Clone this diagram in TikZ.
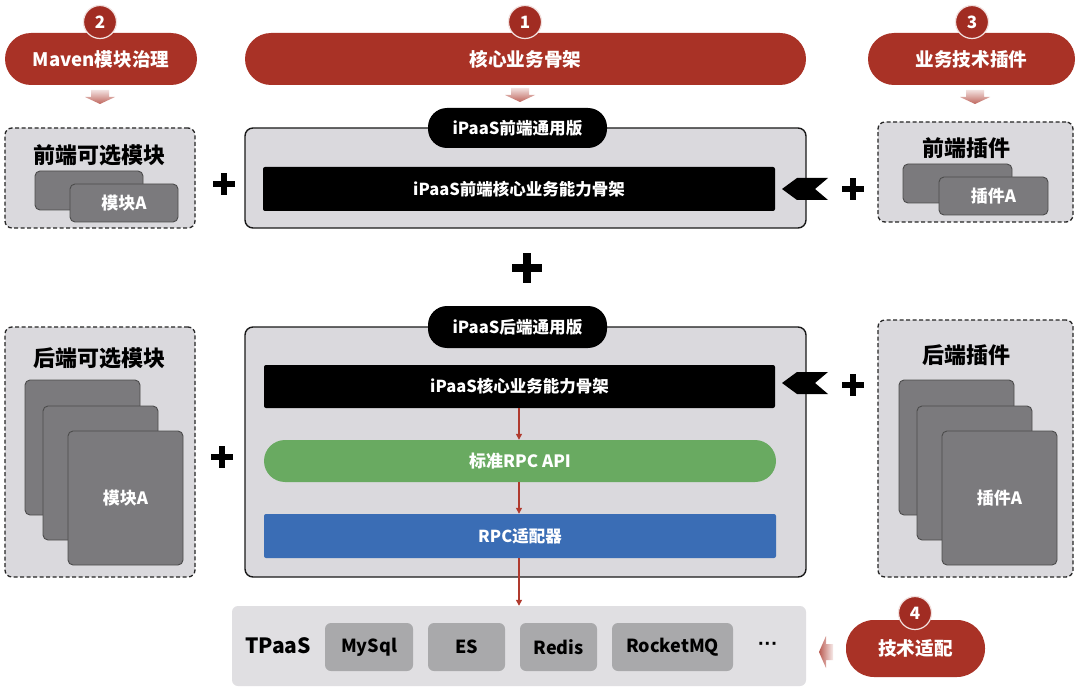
\documentclass[tikz,border=0pt]{standalone}
\usepackage{fontspec}
\setmainfont{Noto Sans CJK SC}
\newfontfamily\latinf{Liberation Sans}
\usetikzlibrary{arrows.meta,shadows}
\definecolor{pillred}{HTML}{A93226}
\definecolor{circred}{HTML}{A12C22}
\definecolor{boxgray}{HTML}{DAD9DD}
\definecolor{cardgray}{HTML}{7B7A7D}
\definecolor{itemgray}{HTML}{A9A9AB}
\definecolor{tpgray}{HTML}{E0DFE2}
\definecolor{apigreen}{HTML}{69AA61}
\definecolor{rpcblue}{HTML}{3A6DB5}
\definecolor{arrred}{HTML}{B03A2E}
\newcommand{\fs}[1]{\fontsize{#1}{#1}\selectfont}
\tikzset{
  redpill/.style={fill=pillred, rounded corners=26pt, text=white, font=\bfseries\fs{18.6}, inner sep=0pt, minimum height=52pt},
  numcirc/.style={circle, fill=circred, draw=white!85!pillred, line width=1.2pt, text=white, font=\bfseries\fs{17}, minimum size=33pt, inner sep=0pt},
  dashbox/.style={draw=black!85, dashed, dash pattern=on 4pt off 2.5pt, line width=1.3pt, fill=boxgray, rounded corners=7pt, inner sep=0pt},
  mainbox/.style={draw=black!90, line width=1.4pt, fill=boxgray, rounded corners=8pt, inner sep=0pt},
  tabbox/.style={fill=black, rounded corners=19pt, text=white, font=\bfseries\fs{16.6}, inner sep=0pt},
  barbox/.style={fill=black, rounded corners=2pt, text=white, font=\bfseries\fs{16.5}, inner sep=0pt},
  cardbox/.style={fill=cardgray, draw=black!70, line width=0.9pt, rounded corners=5pt, text=white, font=\bfseries\fs{17}, inner sep=0pt},
  titletext/.style={font=\bfseries\fs{22}, text=black, inner sep=0pt},
  itembox/.style={fill=itemgray, rounded corners=6pt, font=\bfseries\fs{18}, text=black, inner sep=0pt, minimum height=48pt},
  flow/.style={draw=arrred, line width=1.2pt, -{Triangle[length=6pt,width=6pt]}},
  plusmark/.pic={\fill[black] (-11,-3.2) rectangle (11,3.2); \fill[black] (-3.2,-11) rectangle (3.2,11);},
  downarr/.pic={\shade[top color=pillred!15, bottom color=pillred!75, draw=none] (-9,-7) -- (9,-7) -- (9,0) -- (15,0) -- (0,7) -- (-15,0) -- (-9,0) -- cycle;},
  leftarr/.pic={\shade[left color=pillred!80, right color=pillred!10, draw=none] (7,-8) -- (7,8) -- (0,8) -- (0,16) -- (-7,0) -- (0,-16) -- (0,-8) -- cycle;},
  flagarr/.pic={\fill[black] (-23,0) -- (-8,-11) -- (23,-11) -- (10,0) -- (23,11) -- (-8,11) -- cycle;}
}
\begin{document}
\begin{tikzpicture}[x=1pt,y=-1pt]
\path[use as bounding box, fill=white] (0,0) rectangle (1080,690);

% top red pills
\node[redpill, minimum width=192pt] (p2) at (101,59) {Maven模块治理};
\node[redpill, minimum width=561pt] (p1) at (525.5,59) {核心业务骨架};
\node[redpill, minimum width=207pt] (p3) at (971.5,59) {业务技术插件};
\node[numcirc] (c2) at (100,22) {2};
\node[numcirc] (c1) at (525,22) {1};
\node[numcirc] (c3) at (972,22) {3};
\pic at (100,97) {downarr};
\pic at (520,95) {downarr};
\pic at (975,97) {downarr};

% front row
\node[dashbox, minimum width=190pt, minimum height=100pt] (fl) at (100,178) {};
\node[titletext] (flt) at (100,155) {前端可选模块};
\node[cardbox, minimum width=108pt, minimum height=39pt] (flc1) at (89,190.5) {};
\node[cardbox, minimum width=108pt, minimum height=38pt] (flc2) at (124,203) {模块A};
\pic at (224,184) {plusmark};

\node[mainbox, minimum width=561pt, minimum height=100pt] (fm) at (525.5,178) {};
\node[tabbox, minimum width=179pt, minimum height=40pt] (ft) at (517.5,128) {iPaaS前端通用版};
\node[barbox, minimum width=512pt, minimum height=44pt] (fb) at (519,189) {iPaaS前端核心业务能力骨架};
\pic at (805,189) {flagarr};
\pic at (853,189) {plusmark};

\node[dashbox, minimum width=195pt, minimum height=100pt] (fr) at (975.5,172) {};
\node[titletext] (frt) at (966,148) {前端插件};
\node[cardbox, minimum width=109pt, minimum height=39pt] (frc1) at (957.5,183.5) {};
\node[cardbox, minimum width=109pt, minimum height=38pt] (frc2) at (993.5,196) {插件A};

% middle plus
\pic[scale=1.35] at (527,268) {plusmark};

% back row
\node[dashbox, minimum width=190pt, minimum height=250pt] (bl) at (100,452) {};
\node[titletext] (blt) at (100,358) {后端可选模块};
\node[cardbox, minimum width=115pt, minimum height=135pt] (blc1) at (82.5,447.5) {};
\node[cardbox, minimum width=115pt, minimum height=134pt] (blc2) at (100.5,473) {};
\node[cardbox, minimum width=115pt, minimum height=134pt] (blc3) at (125.5,498) {模块A};
\pic at (222,457) {plusmark};

\node[mainbox, minimum width=561pt, minimum height=250pt] (bm) at (525.5,452) {};
\node[tabbox, minimum width=179pt, minimum height=42pt] (bt) at (517.5,327) {iPaaS后端通用版};
\node[barbox, minimum width=511pt, minimum height=43pt] (bb) at (519.5,386.5) {iPaaS核心业务能力骨架};
\node[fill=apigreen, rounded corners=21pt, text=white, font=\bfseries\fs{17}, inner sep=0pt, minimum width=512pt, minimum height=42pt] (api) at (520,461) {标准RPC API};
\node[fill=rpcblue, rounded corners=2pt, text=white, font=\bfseries\fs{16.5}, inner sep=0pt, minimum width=512pt, minimum height=44pt] (rpc) at (520,536) {RPC适配器};
\pic at (805,383) {flagarr};
\pic at (853,385) {plusmark};

\node[dashbox, minimum width=195pt, minimum height=257pt] (br) at (975.5,448.5) {};
\node[titletext] (brt) at (966,355) {后端插件};
\node[cardbox, minimum width=115pt, minimum height=135pt] (brc1) at (956.5,447.5) {};
\node[cardbox, minimum width=115pt, minimum height=134pt] (brc2) at (974.5,473) {};
\node[cardbox, minimum width=115pt, minimum height=134pt] (brc3) at (999.5,498) {插件A};

% TPaaS
\node[fill=tpgray, rounded corners=6pt, inner sep=0pt, minimum width=574pt, minimum height=80pt] (tp) at (519,646) {};
\node[font=\bfseries\fs{21}, inner sep=0pt] (tpt) at (278,646) {TPaaS};
\node[itembox, minimum width=88pt] (mysql) at (369,647) {MySql};
\node[itembox, minimum width=77pt] (es) at (466.5,647) {ES};
\node[itembox, minimum width=77pt] (redis) at (558.5,647) {Redis};
\node[itembox, minimum width=121pt] (rmq) at (672.5,647) {RocketMQ};
\node[font=\latinf\bfseries\fs{20}, inner sep=0pt] (dots) at (768,646) {···};

\pic at (826,652) {leftarr};
\node[redpill, minimum width=139pt, minimum height=57pt, rounded corners=28pt] (p4) at (915.5,648.5) {技术适配};
\node[numcirc] (c4) at (915,613) {4};

% flow arrows
\coordinate (ax) at (519,0);
\draw[flow] (bb.south -| ax) -- (api.north -| ax);
\draw[flow] (api.south -| ax) -- (rpc.north -| ax);
\draw[flow] (rpc.south -| ax) -- (tp.north -| ax);
\end{tikzpicture}
\end{document}
